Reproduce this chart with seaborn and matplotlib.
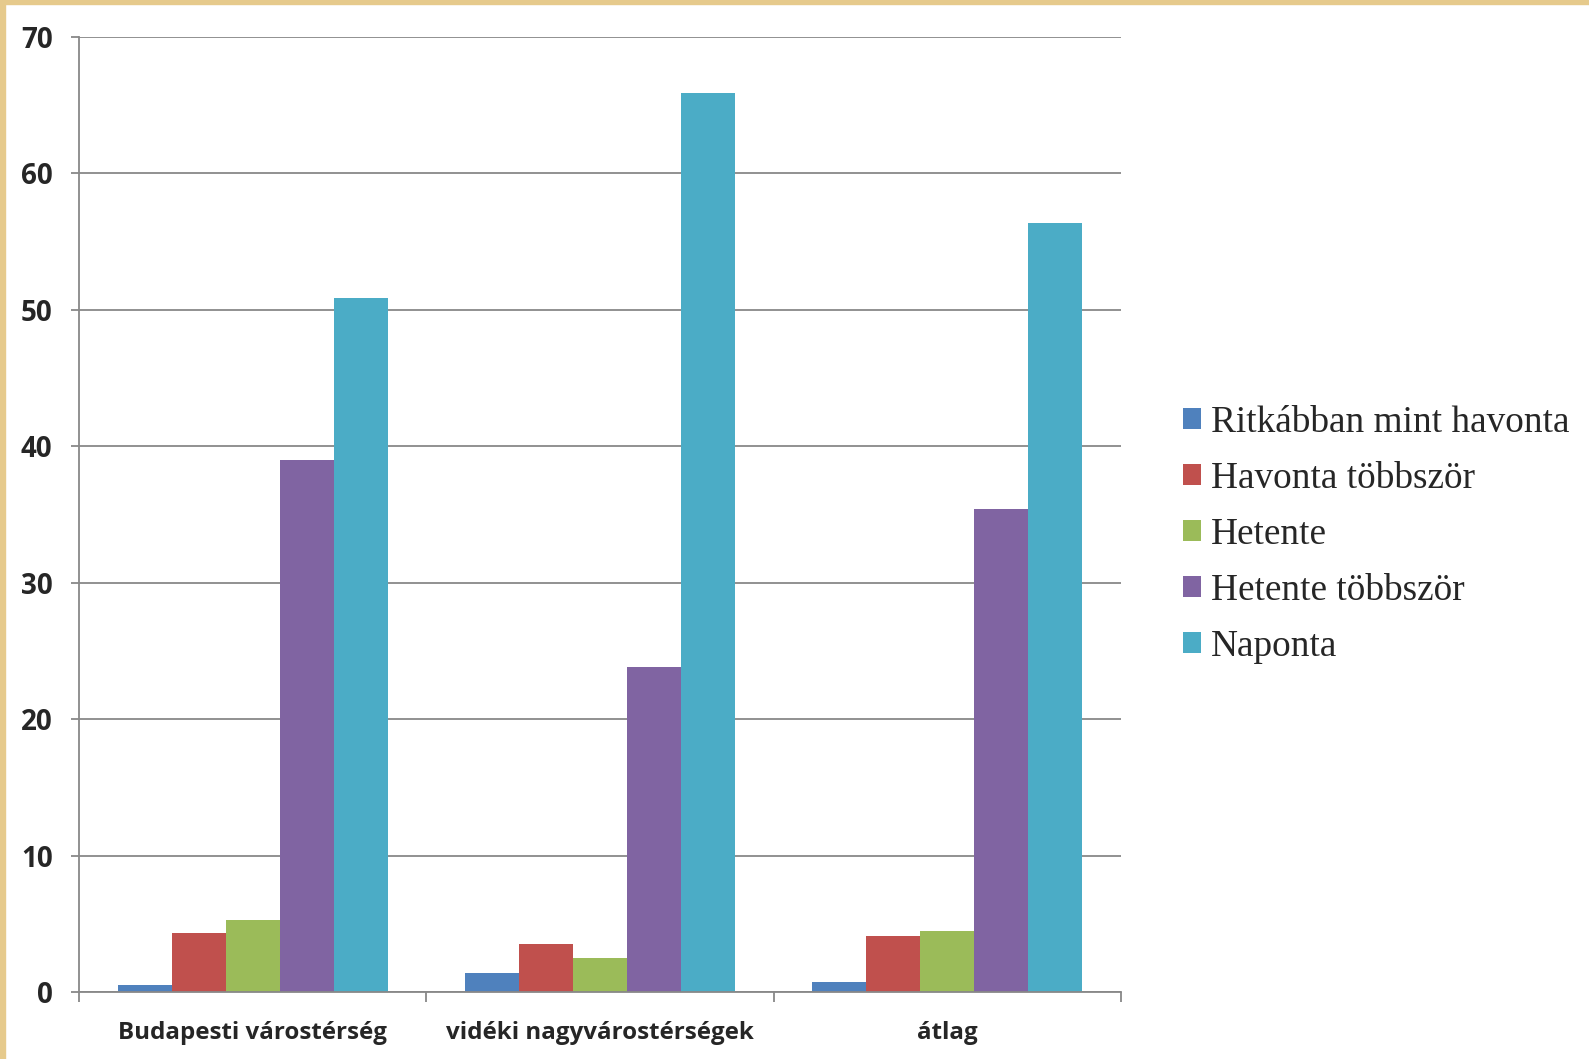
import matplotlib
matplotlib.use("Agg")
import matplotlib.pyplot as plt
import matplotlib.patches as mpatches
import pandas as pd
import seaborn as sns

# categories and series
categories = ["Budapesti várostérség", "vidéki nagyvárostérségek", "átlag"]
series = ["Ritkábban mint havonta", "Havonta többször", "Hetente",
          "Hetente többször", "Naponta"]
ritkabban = [0.5, 1.4, 0.75]
havonta = [4.3, 3.55, 4.1]
hetente = [5.3, 2.47, 4.5]
hetente_tobb = [39.0, 23.8, 35.4]
naponta = [50.9, 65.9, 56.4]
colors = ["#4F81BD", "#C0504D", "#9BBB59", "#8064A2", "#4BACC6"]

values = [ritkabban, havonta, hetente, hetente_tobb, naponta]
rows = []
for s, vals in zip(series, values):
    for c, v in zip(categories, vals):
        rows.append({"category": c, "series": s, "value": v})
df = pd.DataFrame(rows)

sns.set_style("white")
fig = plt.figure(figsize=(15.89, 10.59), dpi=100)
ax = fig.add_axes([79 / 1589, 1 - 992 / 1059, (1121 - 79) / 1589, (992 - 37) / 1059])

sns.barplot(data=df, x="category", y="value", hue="series", order=categories,
            hue_order=series, palette=colors, width=0.778, gap=0, linewidth=0,
            saturation=1, errorbar=None, ax=ax)

grid_c = "#888888"
ax.set_ylim(0, 70)
ax.set_xlim(-0.5, 2.5)
ax.set_yticks(range(0, 71, 10))
ax.yaxis.grid(True, color=grid_c, linewidth=1.3)
ax.set_axisbelow(True)
for side in ["top", "right"]:
    ax.spines[side].set_visible(False)
for side in ["left", "bottom"]:
    ax.spines[side].set_color(grid_c)
    ax.spines[side].set_linewidth(1.3)

ax.set_xticks([-0.5, 0.5, 1.5, 2.5])
ax.set_xticklabels([])
ax.set_xticks([0, 1, 2], minor=True)
ax.set_xticklabels(categories, minor=True, fontsize=17.4, fontweight="bold",
                   family="Open Sans")
ax.tick_params(axis="x", which="major", direction="out", length=7,
               width=1.3, color=grid_c, bottom=True)
ax.tick_params(axis="x", which="minor", length=0, pad=21)
ax.tick_params(axis="y", direction="out", length=6, width=1.3, color=grid_c,
               left=True, pad=13)
for t in ax.get_yticklabels():
    t.set_fontsize(20)
    t.set_fontweight("bold")
    t.set_family("Open Sans")
ax.set_xlabel("")
ax.set_ylabel("")

handles, labels = ax.get_legend_handles_labels()
ax.legend_.remove()
fig.legend(handles, labels, loc="center left", bbox_to_anchor=(1149 / 1589, 0.4953),
           frameon=False, prop={"family": "Liberation Serif", "size": 26.8},
           handlelength=0.51, handleheight=0.51, handletextpad=0.25,
           labelspacing=0.58)

# tan frame strips on top and left edges
border = "#E6CA8C"
fig.patches.append(mpatches.Rectangle((0, 1 - 4 / 1059), 1, 4 / 1059,
                                      transform=fig.transFigure, color=border))
fig.patches.append(mpatches.Rectangle((0, 0), 5 / 1589, 1,
                                      transform=fig.transFigure, color=border))

fig.savefig("out.png", dpi=100)
